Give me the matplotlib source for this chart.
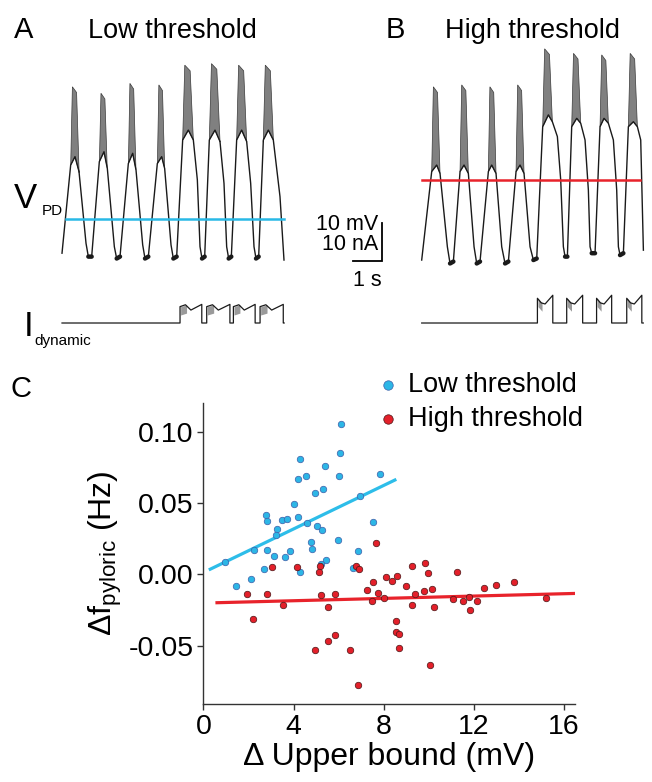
import numpy as np
import matplotlib.pyplot as plt

plt.rcParams['font.family'] = ['Liberation Sans', 'DejaVu Sans']
plt.rcParams['mathtext.fontset'] = 'custom'
plt.rcParams['mathtext.rm'] = 'Liberation Sans'
plt.rcParams['mathtext.it'] = 'Liberation Sans:italic'

# ---- panel C data ----
low_x = [6.11, 4.29, 6.07, 4.20, 4.56, 5.41, 6.04, 7.84, 4.97, 5.31, 6.94, 4.02, 2.78, 2.81,
         3.49, 3.73, 4.19, 3.25, 3.22, 4.61, 5.06, 5.27, 7.55, 5.96, 4.76, 4.82, 2.24, 2.81,
         3.12, 3.84, 3.62, 6.88, 0.97, 2.67, 4.29, 5.44, 5.21, 6.66, 1.46, 2.12]
low_y = [0.105, 0.081, 0.085, 0.067, 0.069, 0.076, 0.0685, 0.070, 0.057, 0.060, 0.055, 0.049,
         0.0415, 0.037, 0.038, 0.0387, 0.040, 0.032, 0.0275, 0.036, 0.034, 0.031, 0.0366,
         0.024, 0.0226, 0.0177, 0.0168, 0.0171, 0.0126, 0.0161, 0.0117, 0.0163, 0.0082,
         0.0033, 0.0014, 0.010, 0.007, 0.0044, -0.0082, -0.0035]
high_x = [7.67, 3.03, 4.16, 5.18, 5.12, 6.78, 6.90, 1.92, 2.81, 3.53, 2.19, 5.21, 5.84, 5.55,
          4.97, 5.53, 5.84, 6.50, 6.88, 7.25, 7.52, 7.76, 7.47, 8.01, 8.12, 8.36, 8.59, 8.56,
          8.57, 8.69, 8.70, 9.01, 9.24, 9.40, 9.28, 9.80, 9.83, 9.96, 10.04, 10.13, 10.24,
          11.07, 11.27, 11.52, 11.77, 11.84, 12.16, 12.47, 13.00, 13.79, 15.21]
high_y = [0.0221, 0.0051, 0.0051, 0.0056, 0.0014, 0.0058, 0.0033, -0.0142, -0.014, -0.0214,
          -0.0312, -0.0149, -0.014, -0.0231, -0.0531, -0.0469, -0.0424, -0.0529, -0.078,
          -0.0114, -0.0056, -0.0135, -0.0189, -0.0165, -0.0021, -0.0049, -0.0012, -0.0331,
          -0.0403, -0.0422, -0.0515, -0.0082, 0.0056, -0.014, -0.0217, -0.0121, 0.0077,
          0.0009, -0.0639, -0.0107, -0.0233, -0.0177, 0.0016, -0.0189, -0.0159, -0.0252,
          -0.0191, -0.0096, -0.0079, -0.0054, -0.017]
low_fit_x = [0.3, 8.5]
low_fit_y = [0.0035, 0.066]
high_fit_x = [0.6, 16.5]
high_fit_y = [-0.020, -0.0135]

# ---- panel A / B traces: vertices of the voltage trace (s, mV) ----
A_t = [0.0, 0.299, 0.448, 0.586, 0.828, 0.908, 1.023, 1.287, 1.448, 1.563, 1.805, 1.885, 2.0,
       2.287, 2.437, 2.552, 2.782, 2.862, 2.977, 3.287, 3.437, 3.54, 3.759, 3.839, 3.954,
       4.161, 4.356, 4.529, 4.667, 4.759, 4.828, 4.92, 5.08, 5.276, 5.448, 5.586, 5.678,
       5.747, 5.839, 6.023, 6.195, 6.368, 6.506, 6.621, 6.69, 6.782, 6.943, 7.115, 7.287,
       7.517, 7.655]
A_v = [-59.0, -35.8, -33.6, -37.5, -56.4, -59.9, -59.9, -34.9, -32.3, -36.7, -57.3, -60.4,
       -59.9, -35.4, -32.7, -37.1, -56.8, -60.4, -59.9, -35.4, -33.6, -36.7, -56.8, -60.4,
       -59.9, -29.2, -26.6, -29.2, -39.7, -57.3, -60.4, -59.9, -29.2, -26.6, -29.6, -40.6,
       -57.3, -60.4, -59.9, -29.2, -26.6, -29.6, -40.6, -57.3, -60.4, -59.9, -29.2, -26.6,
       -29.2, -44.1, -60.8]
A_burst_on = [0.30, 1.29, 2.29, 3.29, 4.16, 5.08, 6.02, 6.94]
A_burst_off = [0.59, 1.56, 2.55, 3.54, 4.53, 5.45, 6.37, 7.29]
A_burst_top = [-15.2, -16.9, -14.3, -14.7, -9.5, -9.1, -9.5, -9.5]
A_thr = -50.0
A_thr_span = [0.13, 7.66]

B_t = [0.0, 0.345, 0.517, 0.632, 0.885, 0.977, 1.092, 1.322, 1.46, 1.609, 1.805, 1.897,
       2.011, 2.299, 2.414, 2.563, 2.759, 2.874, 2.989, 3.253, 3.391, 3.529, 3.736, 3.851,
       3.966, 4.172, 4.368, 4.506, 4.678, 4.793, 4.885, 4.943, 5.023, 5.172, 5.345, 5.483,
       5.632, 5.747, 5.805, 5.862, 5.977, 6.149, 6.287, 6.437, 6.609, 6.724, 6.782, 6.839,
       6.954, 7.126, 7.299, 7.437, 7.552, 7.644]
B_v = [-60.8, -37.5, -35.8, -38.0, -57.3, -61.7, -61.2, -37.5, -35.8, -38.0, -57.3, -61.7,
       -61.2, -37.5, -35.8, -38.0, -57.3, -61.7, -61.2, -37.5, -35.8, -38.0, -57.3, -60.8,
       -60.4, -25.7, -22.6, -24.4, -28.3, -39.7, -57.3, -59.9, -59.9, -25.7, -23.5, -24.8,
       -29.2, -42.4, -57.3, -59.0, -59.0, -25.7, -23.5, -24.8, -29.2, -42.4, -57.3, -59.5,
       -59.0, -25.7, -24.4, -25.7, -29.2, -58.2]
B_burst_on = [0.345, 1.322, 2.299, 3.253, 4.172, 5.172, 6.149, 7.126]
B_burst_off = [0.632, 1.609, 2.563, 3.529, 4.506, 5.483, 6.437, 7.437]
B_burst_top = [-15.2, -14.7, -15.2, -14.7, -5.2, -6.4, -6.8, -6.4]
B_thr = -39.7
B_thr_span = [0.0, 7.53]

# dynamic clamp current pulses (s, nA)
pulse_frac = [0.0, 0.25, 0.5, 1.0]
A_pulse_on = [4.07, 4.99, 5.91, 6.83]
A_pulse_off = [4.82, 5.79, 6.66, 7.63]
A_pulse_lvl = [4.3, 4.8, 3.4, 4.9]
A_I_end = 7.66
B_pulse_on = [3.99, 5.00, 6.03, 7.07]
B_pulse_off = [4.52, 5.55, 6.55, 7.59]
B_pulse_lvl = [6.5, 5.3, 5.0, 7.3]
B_I_end = 7.64

W, H = 652, 782
fig = plt.figure(figsize=(W / 100, H / 100), dpi=100)


def px_axes(x0, y0, x1, y1):
    return fig.add_axes([x0 / W, 1 - y1 / H, (x1 - x0) / W, (y1 - y0) / H])


def draw_trace(axv, axi, t, v, b_on, b_off, b_top, thr, thr_span, thr_col,
               p_on, p_off, p_lvl, t_end):
    t = np.asarray(t)
    v = np.asarray(v)
    axv.plot(t, v, color='#1a1a1a', lw=1.0)
    # noisy troughs look like a thick band
    axv.plot(t, np.where(v < -58.9, v, np.nan), color='#1a1a1a', lw=3.2,
             solid_capstyle='round')
    for on, off, top in zip(b_on, b_off, b_top):
        seg_t = [on] + [tt for tt in t if on < tt < off] + [off]
        seg_v = list(np.interp(seg_t, t, v))
        d = off - on
        axv.fill(seg_t + [off - 0.3 * d, on + 0.2 * d], seg_v + [top - 1.5, top],
                 color='#808080', lw=0.5, ec='#3a3a3a')
    axv.plot(thr_span, [thr, thr], color=thr_col, lw=1.8)
    it, iv = [0.0], [0.0]
    for on, off in zip(p_on, p_off):
        it += [on] + [on + f * (off - on) for f in pulse_frac] + [off]
        iv += [0.0] + list(p_lvl) + [0.0]
        axi.fill_between([on + 0.02, on + 0.3 * (off - on)],
                         [p_lvl[0] - 2.2, p_lvl[1] - 2.2], [p_lvl[0], p_lvl[1]],
                         color='#9a9a9a', lw=0)
    it.append(t_end)
    iv.append(0.0)
    axi.plot(it, iv, color='#1a1a1a', lw=0.9)


vlim = (-66.05, -4.2)
ilim = (-4.47, 8.68)
axVA = px_axes(50, 45, 300, 280)
axIA = px_axes(50, 290, 300, 340)
axVB = px_axes(340, 45, 650, 280)
axIB = px_axes(340, 290, 650, 340)
for a, lo, hi in [(axVA, -0.414, 8.207), (axIA, -0.414, 8.207),
                  (axVB, -2.817, 7.872), (axIB, -2.817, 7.872)]:
    a.set_xlim(lo, hi)
    a.axis('off')
for a in (axVA, axVB):
    a.set_ylim(*vlim)
for a in (axIA, axIB):
    a.set_ylim(*ilim)

draw_trace(axVA, axIA, A_t, A_v, A_burst_on, A_burst_off, A_burst_top, A_thr, A_thr_span,
           '#29b9e6', A_pulse_on, A_pulse_off, A_pulse_lvl, A_I_end)
draw_trace(axVB, axIB, B_t, B_v, B_burst_on, B_burst_off, B_burst_top, B_thr, B_thr_span,
           '#e8232b', B_pulse_on, B_pulse_off, B_pulse_lvl, B_I_end)

# scale bars: 1 s, 10 mV
axVB.plot([-2.37, -1.37, -1.37], [-61.0, -61.0, -51.0], color='k', lw=1.3,
          clip_on=False, solid_joinstyle='miter')

fs_t = 15.5
fig.text(14 / W, 1 - 38 / H, 'A', fontsize=21, va='baseline')
fig.text(88 / W, 1 - 38 / H, 'Low threshold', fontsize=19.5, va='baseline')
fig.text(386 / W, 1 - 38 / H, 'B', fontsize=21, va='baseline')
fig.text(445 / W, 1 - 38 / H, 'High threshold', fontsize=19.5, va='baseline')
fig.text(378 / W, 1 - 224 / H, '10 mV', fontsize=fs_t, ha='right', va='center')
fig.text(378 / W, 1 - 245 / H, '10 nA', fontsize=fs_t, ha='right', va='center')
fig.text(367 / W, 1 - 281 / H, '1 s', fontsize=fs_t, ha='center', va='center')
fig.text(14 / W, 1 - 208 / H, 'V', fontsize=25, va='baseline')
fig.text(42 / W, 1 - 215 / H, 'PD', fontsize=11, va='baseline')
fig.text(24 / W, 1 - 336 / H, 'I', fontsize=25, va='baseline')
fig.text(34 / W, 1 - 345 / H, 'dynamic', fontsize=11, va='baseline')
fig.text(11 / W, 1 - 397 / H, 'C', fontsize=21, va='baseline')

# ---- panel C ----
ax = px_axes(203.5, 403, 575, 704)
sc1 = ax.scatter(low_x, low_y, s=22, c='#2cb6e6', edgecolors='#3d5ea8', linewidths=0.5,
                 zorder=3, label='Low threshold')
sc2 = ax.scatter(high_x, high_y, s=22, c='#e3202a', edgecolors='#4a1515', linewidths=0.5,
                 zorder=3, label='High threshold')
ax.plot(low_fit_x, low_fit_y, color='#2dbde9', lw=2.3, zorder=2)
ax.plot(high_fit_x, high_fit_y, color='#e8232b', lw=2.3, zorder=2)
ax.set_xlim(0, 16.5)
ax.set_ylim(-0.091, 0.12)
ax.set_xticks([0, 4, 8, 12, 16])
ax.set_yticks([-0.05, 0.0, 0.05, 0.10])
ax.set_yticklabels(['-0.05', '0.00', '0.05', '0.10'])
for s in ('top', 'right'):
    ax.spines[s].set_visible(False)
for s in ('left', 'bottom'):
    ax.spines[s].set_color('#333333')
    ax.spines[s].set_linewidth(1.0)
ax.tick_params(labelsize=20.5, length=4, width=1, color='#333333', pad=3)
ax.set_xlabel('Δ Upper bound (mV)', fontsize=23, labelpad=2)
ax.set_ylabel('Δf$_{\\mathrm{pyloric}}$ (Hz)', fontsize=23, labelpad=3)

fig.legend(handles=[sc1, sc2], loc='upper left', bbox_to_anchor=(377 / W, 1 - 372 / H),
           fontsize=19.5, frameon=False, markerscale=1.45, handletextpad=0.35,
           labelspacing=0.3, borderpad=0, borderaxespad=0, handlelength=0.8)

fig.savefig('out.png', dpi=100)
